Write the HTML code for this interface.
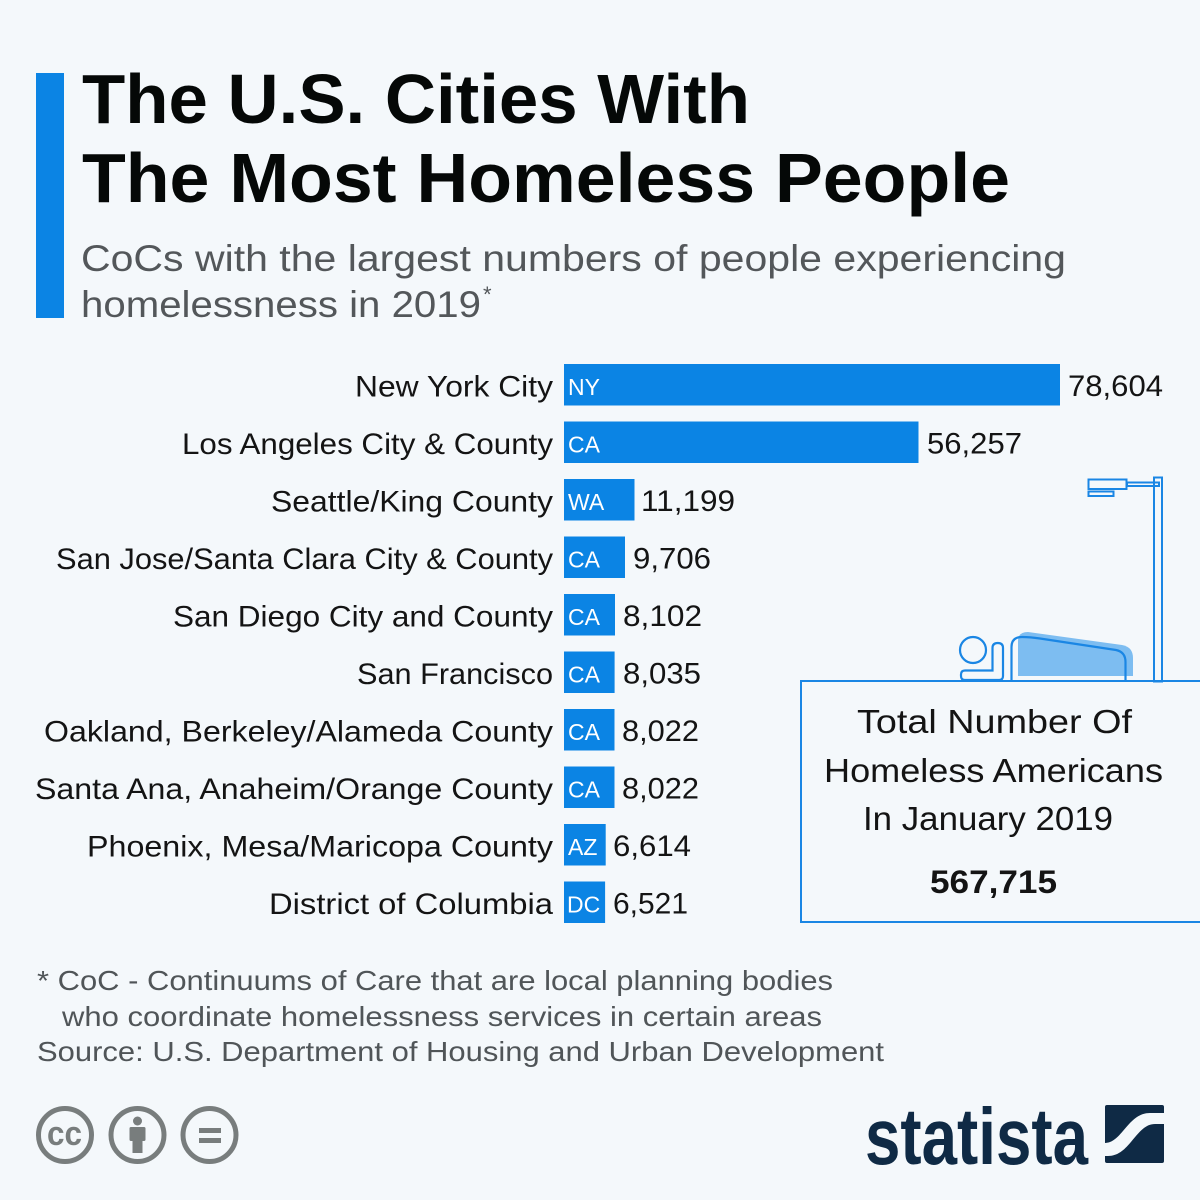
<!DOCTYPE html>
<html>
<head>
<meta charset="utf-8">
<style>
  html,body{margin:0;padding:0;background:#f4f8fb;}
  svg{display:block;}
  text{font-family:"Liberation Sans",sans-serif;}
</style>
</head>
<body>
<svg width="1200" height="1200" viewBox="0 0 1200 1200" xmlns="http://www.w3.org/2000/svg">
  <rect x="0" y="0" width="1200" height="1200" fill="#f4f8fb"/>

  <!-- Title block -->
  <rect x="36" y="73" width="28" height="245" fill="#0b84e4"/>
  <text x="82" y="123" font-size="70" font-weight="bold" fill="#050807" textLength="668" lengthAdjust="spacingAndGlyphs">The U.S. Cities With</text>
  <text x="82" y="202" font-size="70" font-weight="bold" fill="#050807" textLength="928" lengthAdjust="spacingAndGlyphs">The Most Homeless People</text>
  <text x="81" y="271" font-size="37" fill="#53575a" textLength="985" lengthAdjust="spacingAndGlyphs">CoCs with the largest numbers of people experiencing</text>
  <text x="81" y="317" font-size="37" fill="#53575a" textLength="400" lengthAdjust="spacingAndGlyphs">homelessness in 2019</text>
  <text x="483" y="302" font-size="22" fill="#53575a">*</text>

  <!-- Bars -->
  <g fill="#0b84e4">
    <rect x="564" y="364" width="496" height="41.5"/>
    <rect x="564" y="421.5" width="354.5" height="41.5"/>
    <rect x="564" y="479" width="70.5" height="41.5"/>
    <rect x="564" y="536.5" width="61" height="41.5"/>
    <rect x="564" y="594" width="51" height="41.5"/>
    <rect x="564" y="651.5" width="50.6" height="41.5"/>
    <rect x="564" y="709" width="50.5" height="41.5"/>
    <rect x="564" y="766.5" width="50.5" height="41.5"/>
    <rect x="564" y="824" width="41.7" height="41.5"/>
    <rect x="564" y="881.5" width="41.1" height="41.5"/>
  </g>

  <!-- State codes -->
  <g font-size="23" fill="#ffffff">
    <text x="568" y="395">NY</text>
    <text x="568" y="452.5">CA</text>
    <text x="568" y="510">WA</text>
    <text x="568" y="567.5">CA</text>
    <text x="568" y="625">CA</text>
    <text x="568" y="682.5">CA</text>
    <text x="568" y="740">CA</text>
    <text x="568" y="797.5">CA</text>
    <text x="568" y="855">AZ</text>
    <text x="567" y="912.5">DC</text>
  </g>

  <!-- Category labels -->
  <g font-size="30" fill="#141414">
    <text x="355" y="396.5" textLength="198" lengthAdjust="spacingAndGlyphs">New York City</text>
    <text x="182" y="454" textLength="371" lengthAdjust="spacingAndGlyphs">Los Angeles City &amp; County</text>
    <text x="271" y="511.5" textLength="282" lengthAdjust="spacingAndGlyphs">Seattle/King County</text>
    <text x="56" y="569" textLength="497" lengthAdjust="spacingAndGlyphs">San Jose/Santa Clara City &amp; County</text>
    <text x="173" y="626.5" textLength="380" lengthAdjust="spacingAndGlyphs">San Diego City and County</text>
    <text x="357" y="684" textLength="196" lengthAdjust="spacingAndGlyphs">San Francisco</text>
    <text x="44" y="741.5" textLength="509" lengthAdjust="spacingAndGlyphs">Oakland, Berkeley/Alameda County</text>
    <text x="35" y="799" textLength="518" lengthAdjust="spacingAndGlyphs">Santa Ana, Anaheim/Orange County</text>
    <text x="87" y="856.5" textLength="466" lengthAdjust="spacingAndGlyphs">Phoenix, Mesa/Maricopa County</text>
    <text x="269" y="914" textLength="284" lengthAdjust="spacingAndGlyphs">District of Columbia</text>
  </g>

  <!-- Values -->
  <g font-size="30" fill="#141414">
    <text x="1068" y="396" textLength="95" lengthAdjust="spacingAndGlyphs">78,604</text>
    <text x="927" y="453.5" textLength="95" lengthAdjust="spacingAndGlyphs">56,257</text>
    <text x="641" y="511" textLength="94" lengthAdjust="spacingAndGlyphs">11,199</text>
    <text x="633" y="568.5" textLength="78" lengthAdjust="spacingAndGlyphs">9,706</text>
    <text x="623" y="626" textLength="79" lengthAdjust="spacingAndGlyphs">8,102</text>
    <text x="623" y="683.5" textLength="78" lengthAdjust="spacingAndGlyphs">8,035</text>
    <text x="622" y="741" textLength="77" lengthAdjust="spacingAndGlyphs">8,022</text>
    <text x="622" y="798.5" textLength="77" lengthAdjust="spacingAndGlyphs">8,022</text>
    <text x="613" y="856" textLength="78" lengthAdjust="spacingAndGlyphs">6,614</text>
    <text x="613" y="913.5" textLength="75" lengthAdjust="spacingAndGlyphs">6,521</text>
  </g>

  <!-- Illustration -->
  <g fill="none" stroke="#1a86e4" stroke-width="2">
    <rect x="1154" y="477.5" width="8" height="204"/>
    <rect x="1127" y="482.5" width="32" height="3.5"/>
    <rect x="1088.5" y="479.5" width="38" height="9.5"/>
    <rect x="1088.5" y="491.5" width="25" height="4.5"/>
  </g>
  <path d="M1018,676 L1018,641 Q1018,632 1028,632 L1122,645 Q1133,647 1133,658 L1133,676 Z" fill="#7dbdf1"/>
  <g fill="none" stroke="#1a86e4" stroke-width="2.2">
    <circle cx="973" cy="650" r="13"/>
    <path d="M965,680 Q961,680 961,676 L961,674.5 Q961,670.5 965,670.5 L992.5,670.5 L992.5,648 Q992.5,643 997.8,643 Q1003,643 1003,648 L1003,676 Q1003,680 999,680 Z"/>
    <path d="M1011.5,681 L1011.5,647 Q1011.5,637 1022,637 Q1030,637 1040,638.5 L1116,650 Q1125.5,652 1125.5,662 L1125.5,681"/>
  </g>

  <!-- Total box -->
  <rect x="801" y="681" width="402" height="241" fill="none" stroke="#1a86e4" stroke-width="2"/>
  <g font-size="33" fill="#141414">
    <text x="857" y="733" textLength="275" lengthAdjust="spacingAndGlyphs">Total Number Of</text>
    <text x="824" y="782" textLength="339" lengthAdjust="spacingAndGlyphs">Homeless Americans</text>
    <text x="863" y="830" textLength="250" lengthAdjust="spacingAndGlyphs">In January 2019</text>
  </g>
  <text x="930" y="893" font-size="32" font-weight="bold" fill="#141414" textLength="127" lengthAdjust="spacingAndGlyphs">567,715</text>

  <!-- Footnote -->
  <g font-size="28" fill="#505558">
    <text x="37" y="990" textLength="796" lengthAdjust="spacingAndGlyphs">* CoC - Continuums of Care that are local planning bodies</text>
    <text x="62" y="1026" textLength="760" lengthAdjust="spacingAndGlyphs">who coordinate homelessness services in certain areas</text>
    <text x="37" y="1061" textLength="847" lengthAdjust="spacingAndGlyphs">Source: U.S. Department of Housing and Urban Development</text>
  </g>

  <!-- CC icons -->
  <g fill="none" stroke="#787d7d" stroke-width="5">
    <circle cx="65" cy="1135" r="26.5"/>
    <circle cx="137.5" cy="1135" r="26.5"/>
    <circle cx="209.5" cy="1135" r="26.5"/>
  </g>
  <text x="47" y="1145" font-size="34" font-weight="bold" fill="#787d7d" textLength="35" lengthAdjust="spacingAndGlyphs">cc</text>
  <g fill="#787d7d">
    <circle cx="137.5" cy="1121" r="4.5"/>
    <rect x="129.5" y="1127" width="16" height="14" rx="1.5"/>
    <rect x="132.5" y="1140" width="10" height="13"/>
    <rect x="199" y="1128" width="22" height="5"/>
    <rect x="199" y="1138" width="22" height="5"/>
  </g>

  <!-- Statista logo -->
  <text x="865" y="1164" font-size="80" font-weight="bold" fill="#0f2a45" textLength="223" lengthAdjust="spacingAndGlyphs">statista</text>
  <rect x="1105" y="1105" width="59" height="58" rx="2" fill="#0f2a45"/>
  <path d="M1105,1143 C1122,1143 1128,1113 1150,1113 L1164,1113 L1164,1124 L1155,1124 C1136,1124 1130,1156 1108,1156 L1105,1156 Z" fill="#f4f8fb"/>
</svg>
</body>
</html>
